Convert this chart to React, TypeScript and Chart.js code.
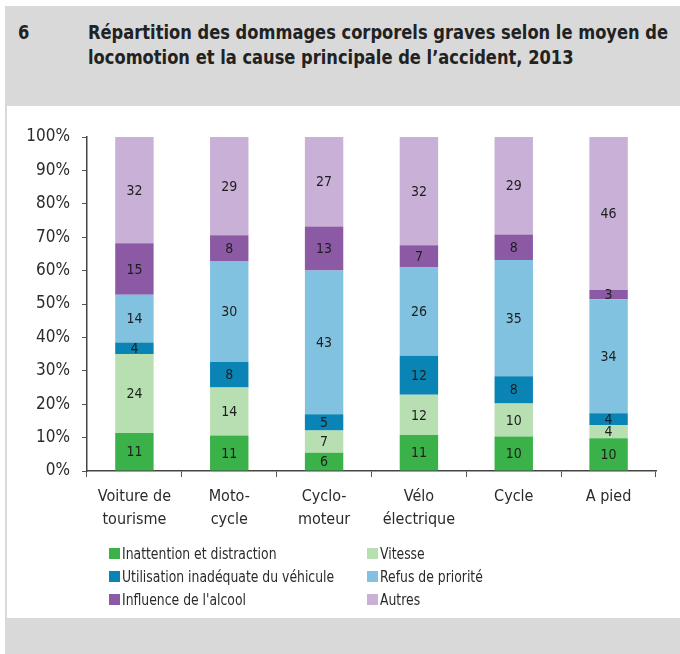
import React, { useEffect, useRef } from "react";
import { Chart, registerables } from "chart.js";

Chart.register(...registerables);

const categories: string[][] = [
  ["Voiture de", "tourisme"],
  ["Moto-", "cycle"],
  ["Cyclo-", "moteur"],
  ["Vélo", "électrique"],
  ["Cycle"],
  ["A pied"],
];
const inattention = [11.4, 10.6, 5.5, 10.8, 10.3, 9.8];
const vitesse = [23.6, 14.4, 6.6, 12.0, 9.9, 4.0];
const utilisation = [3.5, 7.6, 4.9, 11.7, 8.2, 3.5];
const refus = [14.3, 30.3, 43.0, 26.4, 34.8, 34.1];
const alcool = [15.4, 7.7, 13.2, 6.7, 7.6, 2.8];
const autres = [31.8, 29.4, 26.8, 32.4, 29.2, 45.8];

const seriesNames = [
  "Inattention et distraction",
  "Vitesse",
  "Utilisation inadéquate du véhicule",
  "Refus de priorité",
  "Influence de l'alcool",
  "Autres",
];
const seriesValues = [inattention, vitesse, utilisation, refus, alcool, autres];
const seriesColors = ["#3bb14a", "#b7dfb1", "#0a84b5", "#80c2df", "#8c5aa5", "#c8b0d6"];

const yMax = 100;
const yStep = 10;

const titleNumber = "6";
const titleLines = [
  "Répartition des dommages corporels graves selon le moyen de",
  "locomotion et la cause principale de l\u2019accident, 2013",
];

const FONT = '"Liberation Sans Narrow", "DejaVu Sans Condensed", "Roboto Condensed", "Liberation Sans", sans-serif';
const TEXT = "#2b2b2b";

const legendOrder = [0, 1, 2, 3, 4, 5];

const dataLabels = {
  id: "dataLabels",
  afterDatasetsDraw(chart: any) {
    const ctx = chart.ctx;
    ctx.save();
    ctx.font = `14px ${FONT}`;
    ctx.fillStyle = "#1e1e1e";
    ctx.textAlign = "center";
    ctx.textBaseline = "middle";
    chart.data.datasets.forEach((ds: any, di: number) => {
      const meta = chart.getDatasetMeta(di);
      meta.data.forEach((el: any, i: number) => {
        const p = el.getProps(["x", "y", "base"], true);
        const v = ds.data[i];
        ctx.fillText(String(Math.round(v)), p.x, (p.y + p.base) / 2 + 1);
      });
    });
    ctx.restore();
  },
};

export default function App() {
  const ref = useRef<HTMLCanvasElement>(null);
  const titleRef = useRef<HTMLDivElement>(null);
  const numRef = useRef<HTMLDivElement>(null);

  useEffect(() => {
    document.body.style.margin = "0";
    const t = titleRef.current;
    if (t) {
      const line = t.firstElementChild as HTMLElement;
      const w = line.getBoundingClientRect().width;
      const k = 580 / w;
      t.style.transform = `scaleX(${k})`;
      if (numRef.current) numRef.current.style.transform = `scaleX(${k})`;
    }
    const canvas = ref.current!;
    const chart = new Chart(canvas, {
      type: "bar",
      data: {
        labels: categories,
        datasets: seriesNames.map((name, i) => ({
          label: name,
          data: seriesValues[i],
          backgroundColor: seriesColors[i],
          borderWidth: 0,
          barPercentage: 0.405,
          categoryPercentage: 1,
        })),
      },
      options: {
        responsive: false,
        animation: false,
        maintainAspectRatio: false,
        layout: { padding: { left: 0, right: 24, top: 31, bottom: 0 } },
        plugins: {
          legend: { display: false },
          tooltip: { enabled: false },
          title: { display: false },
        },
        scales: {
          x: {
            stacked: true,
            grid: {
              offset: true,
              drawOnChartArea: false,
              drawTicks: true,
              tickLength: 6,
              color: "#555",
              lineWidth: 1,
            },
            border: { display: true, color: "#444", width: 1.5 },
            ticks: {
              color: TEXT,
              font: { family: FONT, size: 16, lineHeight: 1.45 },
              padding: 8,
              maxRotation: 0,
              autoSkip: false,
            },
            afterFit(scale: any) {
              scale.height = 75;
            },
          },
          y: {
            stacked: true,
            min: 0,
            max: yMax,
            grid: {
              drawOnChartArea: false,
              drawTicks: true,
              tickLength: 5,
              color: "#555",
              lineWidth: 1,
            },
            border: { display: true, color: "#444", width: 1.5 },
            ticks: {
              stepSize: yStep,
              color: TEXT,
              font: { family: FONT, size: 17 },
              padding: 12,
              callback: (v: any) => `${v}%`,
            },
            afterFit(scale: any) {
              scale.width = 87;
            },
          },
        },
      },
      plugins: [dataLabels],
    });
    return () => chart.destroy();
  }, []);

  return (
    <div style={{ position: "relative", width: 680, height: 654, background: "#fff", overflow: "hidden", fontFamily: FONT }}>
      <div style={{ position: "absolute", left: 5, top: 6, width: 675, height: 100, background: "#d9d9d9" }} />
      <div style={{ position: "absolute", left: 5, top: 106, width: 2, height: 512, background: "#d9d9d9" }} />
      <div style={{ position: "absolute", left: 5, top: 618, width: 675, height: 36, background: "#d9d9d9" }} />
      <div
        ref={numRef}
        style={{ position: "absolute", left: 18, top: 20, fontSize: 20, fontWeight: "bold", color: "#222", lineHeight: "25px", transformOrigin: "left top" }}
      >
        {titleNumber}
      </div>
      <div
        ref={titleRef}
        style={{ position: "absolute", left: 88, top: 20, fontSize: 20, fontWeight: "bold", color: "#222", lineHeight: "25px", whiteSpace: "nowrap", transformOrigin: "left top" }}
      >
        {titleLines.map((l, i) => (
          <div key={i} style={{ display: "table" }}>{l}</div>
        ))}
      </div>
      <canvas ref={ref} width={680} height={440} style={{ position: "absolute", left: 0, top: 106, width: 680, height: 440 }} />
      <div style={{ position: "absolute", left: 109, top: 542, width: 560 }}>
        {legendOrder.map((si, k) => {
          const col = k % 2;
          const row = Math.floor(k / 2);
          return (
            <div
              key={si}
              style={{
                position: "absolute",
                left: col === 0 ? 0 : 258,
                top: row * 23,
                height: 23,
                display: "flex",
                alignItems: "center",
                whiteSpace: "nowrap",
                fontSize: 15,
                color: TEXT,
              }}
            >
              <span style={{ display: "inline-block", width: 11, height: 11, background: seriesColors[si], marginRight: 2 }} />
              <span style={{ display: "inline-block", transform: "scaleX(0.92)", transformOrigin: "left center" }}>{seriesNames[si]}</span>
            </div>
          );
        })}
      </div>
    </div>
  );
}
